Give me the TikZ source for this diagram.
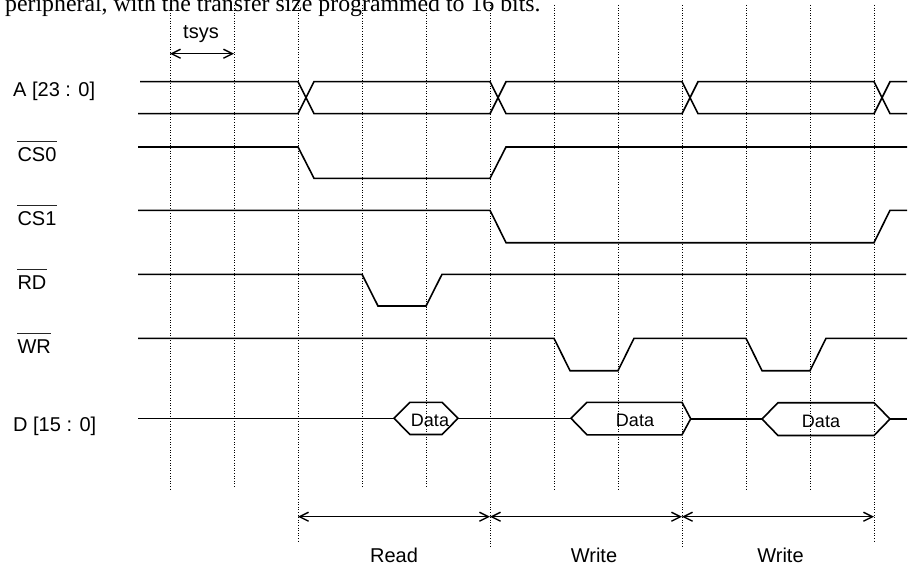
\documentclass[tikz,border=0pt]{standalone}
\usepackage{fontspec}
\setmainfont{Liberation Sans}
\newfontfamily\serifpara{Liberation Serif}
\usetikzlibrary{arrows.meta}
\begin{document}
\begin{tikzpicture}[x=1pt,y=-1pt,
  sig/.style={line width=1.6pt, line join=miter, miter limit=6},
  tick/.style={line width=0.9pt, dash pattern=on 1pt off 1.6pt},
  lab/.style={inner sep=0pt, anchor=base west, font=\fontsize{20}{24}\selectfont},
  datalab/.style={inner sep=0pt, anchor=base, font=\fontsize{18}{21}\selectfont},
  dimline/.style={line width=1.4pt, {Straight Barb[length=9pt,width=9pt]}-{Straight Barb[length=9pt,width=9pt]}},
  ovl/.style={line width=1pt, black!85}]
\useasboundingbox (0,0) rectangle (910,567);
\clip (0,0) rectangle (910,567);

% cut-off caption line at top
\node[inner sep=0pt, anchor=base west, font=\serifpara\fontsize{23.8}{28}\selectfont] (caption) at (5,11.5) {peripheral, with the transfer size programmed to 16 bits.};

% dotted time grid
\foreach \x/\e in {170/491, 234/487, 298/542, 362/487, 426/487, 490/547, 554/491, 618/491, 682/547, 746/491, 810/491, 874/542}
  \draw[tick] (\x,5) -- (\x,\e);

% tsys
\node[lab] (tsys) at (183,39) {tsys};
\coordinate (ts1) at (170,53.7);
\coordinate (ts2) at (234,53.7);
\draw[dimline] (ts1) -- (ts2);

% signal labels
\node[lab] (la) at (13,97) {A [23 : 0]};
\node[lab] (lcs0) at (17.3,161.5) {CS0};
\node[lab] (lcs1) at (17.3,225.5) {CS1};
\node[lab] (lrd) at (17.3,289.5) {RD};
\node[lab] (lwr) at (17.3,353.5) {WR};
\node[lab] (ld) at (13,431) {D [15 : 0]};
\foreach \n in {lcs0,lcs1,lrd,lwr}
  \draw[ovl] ([yshift=6pt]\n.north west) -- ([yshift=6pt]\n.north east);

% A bus
\draw[sig] (140,81.7) -- (298,81.7) -- (314,113.7) -- (490,113.7) -- (506,81.7) -- (682,81.7) -- (698,113.7) -- (874,113.7) -- (890,81.7) -- (907,81.7);
\draw[sig] (138,113.7) -- (298,113.7) -- (314,81.7) -- (490,81.7) -- (506,113.7) -- (682,113.7) -- (698,81.7) -- (874,81.7) -- (890,113.7) -- (907,113.7);

% CS0
\draw[sig] (138,147) -- (298,147) -- (314,178.3) -- (490,178.3) -- (506,147) -- (907,147);
% CS1
\draw[sig] (138,210.3) -- (490,210.3) -- (506,242.7) -- (874,242.7) -- (890,210.3) -- (907,210.3);
% RD
\draw[sig] (138,274.3) -- (362,274.3) -- (378,306) -- (426,306) -- (442,274.3) -- (906,274.3);
% WR
\draw[sig] (138,338.3) -- (554,338.3) -- (570,370.7) -- (618,370.7) -- (634,338.3) -- (746,338.3) -- (762,370.7) -- (810,370.7) -- (826,338.3) -- (907,338.3);

% D bus
\draw[sig] (138,418.3) -- (394,418.3);
\draw[sig] (394,418.3) -- (410,402.3) -- (442,402.3) -- (458,418.3) -- (442,434.5) -- (410,434.5) -- cycle;
\draw[sig] (458,418.3) -- (571,418.3);
\draw[sig] (571,418.3) -- (587,402.3) -- (682,402.3) -- (690.7,418.8) -- (682,434.8) -- (587,434.8) -- cycle;
\draw[sig] (690.7,418.8) -- (762,418.8);
\draw[sig] (762,419) -- (778,402.7) -- (874,402.7) -- (890,419) -- (874,435.5) -- (778,435.5) -- cycle;
\draw[sig] (890,419) -- (907,419);
\node[datalab] (d1) at (430,426.5) {Data};
\node[datalab] (d2) at (635,426.5) {Data};
\node[datalab] (d3) at (821,427.5) {Data};

% cycle arrows
\coordinate (b1) at (298,516.7);
\coordinate (b2) at (490,516.7);
\coordinate (b3) at (682,516.7);
\coordinate (b4) at (874,516.7);
\draw[dimline] (b1) -- (b2);
\draw[dimline] (b2) -- (b3);
\draw[dimline] (b3) -- (b4);
\node[lab, anchor=base] (rd) at (394,562) {Read};
\node[lab, anchor=base] (wr1) at (594,562) {Write};
\node[lab, anchor=base] (wr2) at (780.5,562) {Write};
\end{tikzpicture}
\end{document}
